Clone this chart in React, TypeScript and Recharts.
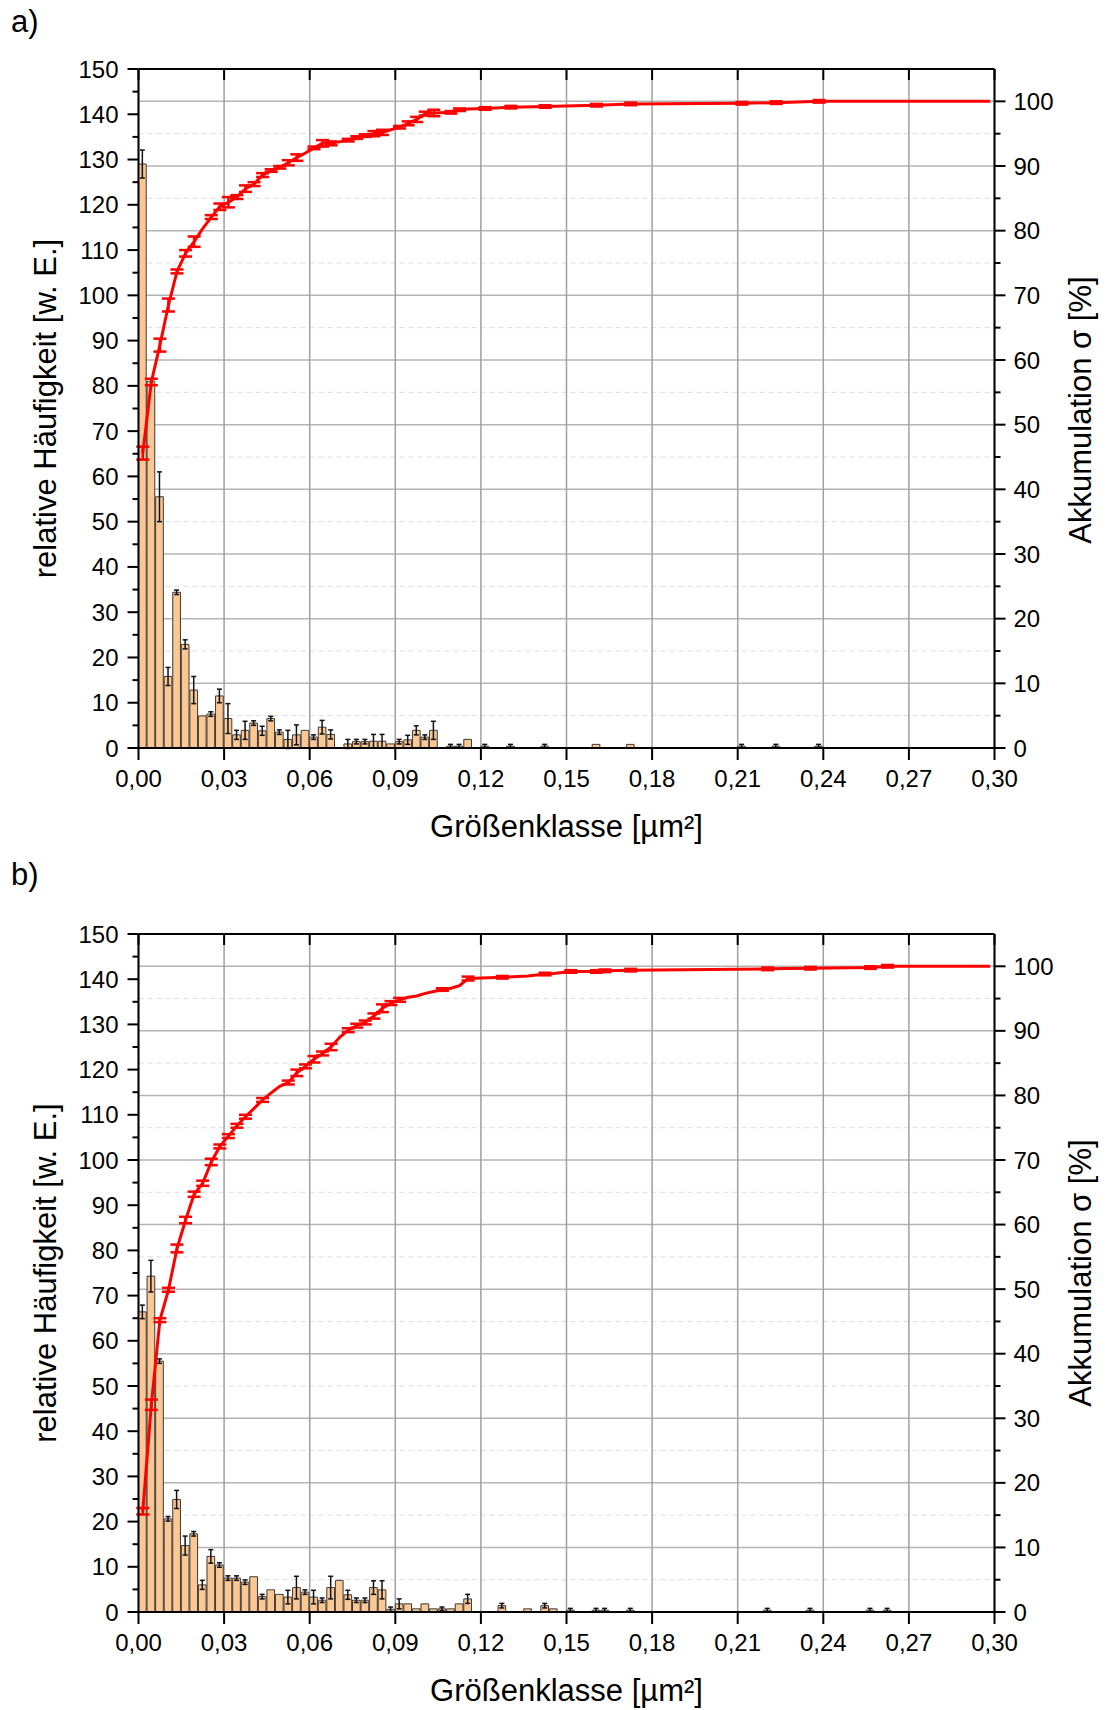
import React from 'react';
import { ComposedChart, Bar, Line, XAxis, YAxis, CartesianGrid, ErrorBar } from 'recharts';

const FONT = '"Liberation Sans", Arial, Helvetica, sans-serif';
const BIN_WIDTH = 0.003;

const X_TICKS = [0, 0.03, 0.06, 0.09, 0.12, 0.15, 0.18, 0.21, 0.24, 0.27, 0.3];
const LEFT_TICKS = [0, 5, 10, 15, 20, 25, 30, 35, 40, 45, 50, 55, 60, 65, 70, 75, 80, 85, 90, 95, 100, 105, 110, 115, 120, 125, 130, 135, 140, 145, 150];
const RIGHT_TICKS = [0, 5, 10, 15, 20, 25, 30, 35, 40, 45, 50, 55, 60, 65, 70, 75, 80, 85, 90, 95, 100];

// ---------- Panel a ----------
const freqBinsA = [0, 1, 2, 3, 4, 5, 6, 7, 8, 9, 10, 11, 12, 13, 14, 15, 16, 17, 18, 19, 20, 21, 22, 24, 25, 26, 27, 28, 29, 30, 31, 32, 33, 34, 36, 37, 38, 40, 43, 47, 53, 57, 70, 74, 79];
const freqA = [129, 81, 55.5, 15.8, 34.4, 22.9, 12.8, 7.1, 7.5, 11.5, 6.5, 2.9, 3.9, 5.5, 3.8, 6.5, 3.5, 1.9, 2.9, 3.9, 2.4, 4.6, 3.0, 0.9, 1.4, 1.4, 1.5, 1.5, 0.9, 1.4, 1.8, 3.9, 2.4, 3.9, 0.4, 0.4, 1.9, 0.4, 0.4, 0.4, 0.8, 0.8, 0.4, 0.4, 0.4];
const freqErrA = [3.1, 0, 5.5, 2, 0.5, 1, 3, 0, 0.5, 1.5, 3.3, 1, 2, 0.5, 1, 0.5, 0.5, 2, 2.2, 0, 0.5, 1.5, 1, 1, 0.5, 0.5, 1.5, 1.5, 0, 0.5, 1, 1, 0.5, 2, 0.4, 0.4, 0, 0.4, 0.4, 0.4, 0, 0, 0.4, 0.4, 0.4];

const cumBinsA = [0, 1, 2, 3, 4, 5, 6, 7, 8, 9, 10, 11, 12, 13, 14, 15, 16, 17, 18, 19, 20, 21, 22, 24, 25, 26, 27, 28, 29, 30, 31, 32, 33, 34, 36, 37, 38, 40, 43, 47, 53, 57, 70, 74, 79, 99];
const cumA = [45.6, 56.6, 62.3, 68.5, 73.7, 76.5, 78.3, 80.3, 82.1, 83.7, 84.4, 85.2, 86.5, 87.2, 88.6, 89.3, 89.8, 90.5, 91.3, 92.0, 92.8, 93.5, 93.5, 94.0, 94.4, 94.7, 95.0, 95.2, 95.6, 96.0, 96.6, 97.2, 98.1, 98.2, 98.3, 98.7, 98.8, 98.9, 99.1, 99.2, 99.4, 99.6, 99.7, 99.8, 100, 100];
const cumErrA = [1, 0.5, 1, 1, 0.3, 0.5, 0.8, 0, 0.3, 0.5, 0.8, 0.3, 0.5, 0.3, 0.3, 0.2, 0.2, 0.4, 0.5, 0, 0.2, 0.5, 0.3, 0.2, 0.2, 0.2, 0.4, 0.4, 0, 0.2, 0.3, 0.4, 0.3, 0.5, 0.2, 0.2, 0, 0.2, 0.2, 0.2, 0.2, 0.2, 0.2, 0.2, 0.2, 0];

// ---------- Panel b ----------
const freqBinsB = [0, 1, 2, 3, 4, 5, 6, 7, 8, 9, 10, 11, 12, 13, 14, 15, 16, 17, 18, 19, 20, 21, 22, 23, 24, 25, 26, 27, 28, 29, 30, 31, 32, 33, 34, 35, 36, 37, 38, 42, 45, 47, 48, 50, 53, 54, 57, 73, 78, 85, 87];
const freqB = [66.4, 74.3, 55.5, 20.6, 24.9, 14.7, 17.3, 6.0, 12.3, 10.4, 7.5, 7.5, 6.6, 7.8, 3.4, 4.9, 3.9, 3.3, 5.4, 4.4, 3.3, 2.6, 5.4, 7.0, 3.8, 2.6, 2.6, 5.4, 4.9, 0.6, 1.8, 1.8, 0.7, 1.8, 0.7, 0.7, 0.7, 1.8, 2.9, 1.4, 0.7, 1.4, 0.7, 0.4, 0.4, 0.4, 0.4, 0.4, 0.4, 0.4, 0.4];
const freqErrB = [1.5, 3.5, 0.5, 0.5, 2, 2.1, 0.5, 1, 1.5, 0.5, 0.5, 0.5, 0.5, 0, 0.5, 0, 0, 1.5, 2.5, 0.5, 1.5, 0.5, 2.5, 0, 1, 0.5, 0.5, 1.5, 2, 0.5, 1.1, 0, 0, 0, 0, 0.4, 0, 0, 1, 0.5, 0, 0.5, 0, 0.4, 0.4, 0.4, 0.4, 0.4, 0.4, 0.4, 0.4];

const cumBinsB = [0, 1, 2, 3, 4, 5, 6, 7, 8, 9, 10, 11, 12, 13, 14, 15, 16, 17, 18, 19, 20, 21, 22, 23, 24, 25, 26, 27, 28, 29, 30, 31, 32, 33, 34, 35, 36, 37, 38, 42, 45, 47, 48, 50, 53, 54, 57, 73, 78, 85, 87, 99];
const cumB = [15.6, 32.1, 45.2, 49.9, 56.3, 60.7, 64.7, 66.4, 69.7, 72.1, 73.7, 75.3, 76.7, 78.0, 79.3, 80.4, 81.4, 82.0, 83.5, 84.5, 85.6, 86.5, 87.5, 89.0, 90.1, 90.8, 91.3, 92.3, 93.5, 94.3, 94.8, 95.2, 95.4, 95.8, 96.1, 96.4, 96.6, 97.0, 98.1, 98.3, 98.5, 98.8, 98.9, 99.2, 99.2, 99.3, 99.4, 99.6, 99.7, 99.8, 100, 100];
const cumErrB = [0.5, 0.8, 0.3, 0.3, 0.6, 0.5, 0.4, 0.4, 0.5, 0.3, 0.3, 0.3, 0.3, 0, 0.3, 0, 0, 0.3, 0.5, 0.3, 0.5, 0.3, 0.5, 0, 0.3, 0.3, 0.3, 0.4, 0.6, 0.3, 0.3, 0, 0, 0, 0, 0.2, 0, 0, 0.3, 0.2, 0, 0.2, 0, 0.2, 0.2, 0.2, 0.2, 0.2, 0.2, 0.2, 0.2, 0];

type Row = { x: number; freq?: number; freqErr?: number | null; cum?: number; cumErr?: number | null };

function makeRows(fb: number[], f: number[], fe: number[], cb: number[], c: number[], ce: number[]): Row[] {
  const map = new Map<number, Row>();
  const get = (b: number) => {
    if (!map.has(b)) map.set(b, { x: (b + 0.5) * BIN_WIDTH });
    return map.get(b) as Row;
  };
  fb.forEach((b, i) => { const r = get(b); r.freq = f[i]; r.freqErr = fe[i] ? fe[i] : null; });
  cb.forEach((b, i) => { const r = get(b); r.cum = c[i]; r.cumErr = ce[i] ? ce[i] : null; });
  return Array.from(map.entries()).sort((a, b) => a[0] - b[0]).map((e) => e[1]);
}

const rowsA = makeRows(freqBinsA, freqA, freqErrA, cumBinsA, cumA, cumErrA);
const rowsB = makeRows(freqBinsB, freqB, freqErrB, cumBinsB, cumB, cumErrB);

const W = 1109;
const CH = 860;
const LEFT_W = 100;
const RIGHT_W = 80;
const MARGIN_L = 38.5;
const MARGIN_R = 34.5;
const PLOT_W = W - MARGIN_L - LEFT_W - MARGIN_R - RIGHT_W;
const BAR_SIZE = PLOT_W / 100;

const LeftTick = (p: any) => {
  const { x, y, payload } = p;
  const v = payload.value;
  const major = v % 10 === 0;
  return (
    <g>
      <line x1={x} x2={x - (major ? 11 : 6)} y1={y} y2={y} stroke="#000" strokeWidth={2} />
      {major && (
        <text x={x - 20} y={y + 8.5} textAnchor="end" fontSize={24} fontFamily={FONT} fill="#000">{v}</text>
      )}
    </g>
  );
};

const RightTick = (p: any) => {
  const { x, y, payload } = p;
  const v = payload.value;
  const major = v % 10 === 0;
  return (
    <g>
      <line x1={x} x2={x + (major ? 11 : 6)} y1={y} y2={y} stroke="#000" strokeWidth={2} />
      {major && (
        <text x={x + 19} y={y + 8.5} textAnchor="start" fontSize={24} fontFamily={FONT} fill="#000">{v}</text>
      )}
    </g>
  );
};

const BottomTick = (p: any) => {
  const { x, y, payload } = p;
  const v = Number(payload.value);
  return (
    <g>
      <line x1={x} x2={x} y1={y} y2={y + 12} stroke="#000" strokeWidth={2} />
      <text x={x} y={y + 39} textAnchor="middle" fontSize={24} fontFamily={FONT} fill="#000">{v.toFixed(2).replace('.', ',')}</text>
    </g>
  );
};

const TopTick = (p: any) => {
  const { x, y } = p;
  return <line x1={x} x2={x} y1={y} y2={y + 11} stroke="#000" strokeWidth={2} />;
};

const hLine = (p: any) => {
  const dashed = p.index % 2 === 1;
  return (
    <line
      key={p.key}
      x1={p.x1}
      x2={p.x2}
      y1={p.y1}
      y2={p.y2}
      stroke={dashed ? '#dcdcdc' : '#b4b4b4'}
      strokeWidth={dashed ? 1 : 1.5}
      strokeDasharray={dashed ? '5 4' : undefined}
    />
  );
};

const vLine = (p: any) => (
  <line key={p.key} x1={p.x1} x2={p.x2} y1={p.y1} y2={p.y2} stroke="#a0a0a0" strokeWidth={1.5} />
);

function Panel({ rows, bottomMargin }: { rows: Row[]; bottomMargin: number }) {
  return (
    <ComposedChart
      width={W}
      height={CH}
      data={rows}
      margin={{ top: 68, right: MARGIN_R, bottom: bottomMargin, left: MARGIN_L }}
      barGap={0}
      barCategoryGap={0}
    >
      <CartesianGrid xAxisId="bottom" yAxisId="right" horizontal={hLine} vertical={vLine} />
      <XAxis
        xAxisId="bottom"
        dataKey="x"
        type="number"
        domain={[0, 0.3]}
        ticks={X_TICKS}
        interval={0}
        allowDataOverflow
        height={60}
        tickSize={0}
        tickMargin={0}
        tickLine={false}
        tick={(p: any) => <BottomTick {...p} />}
        axisLine={{ stroke: '#000', strokeWidth: 2 }}
      />
      <XAxis
        xAxisId="top"
        orientation="top"
        dataKey="x"
        type="number"
        domain={[0, 0.3]}
        ticks={X_TICKS}
        interval={0}
        allowDataOverflow
        height={1}
        tickSize={0}
        tickMargin={0}
        tickLine={false}
        tick={(p: any) => <TopTick {...p} />}
        axisLine={{ stroke: '#000', strokeWidth: 2 }}
      />
      <YAxis
        yAxisId="left"
        orientation="left"
        type="number"
        domain={[0, 150]}
        ticks={LEFT_TICKS}
        interval={0}
        allowDataOverflow
        width={LEFT_W}
        tickSize={0}
        tickMargin={0}
        tickLine={false}
        tick={(p: any) => <LeftTick {...p} />}
        axisLine={{ stroke: '#000', strokeWidth: 2 }}
      />
      <YAxis
        yAxisId="right"
        orientation="right"
        type="number"
        domain={[0, 105]}
        ticks={RIGHT_TICKS}
        interval={0}
        allowDataOverflow
        width={RIGHT_W}
        tickSize={0}
        tickMargin={0}
        tickLine={false}
        tick={(p: any) => <RightTick {...p} />}
        axisLine={{ stroke: '#000', strokeWidth: 2 }}
      />
      <Bar
        xAxisId="bottom"
        yAxisId="left"
        dataKey="freq"
        barSize={BAR_SIZE}
        fill="#FBC793"
        stroke="#3a3a3a"
        strokeWidth={1}
        isAnimationActive={false}
      >
        <ErrorBar dataKey="freqErr" width={2.5} stroke="#111" strokeWidth={1.5} direction="y" />
      </Bar>
      <Line
        xAxisId="bottom"
        yAxisId="right"
        dataKey="cum"
        type="linear"
        stroke="#ff0000"
        strokeWidth={3}
        dot={false}
        connectNulls
        isAnimationActive={false}
      >
        <ErrorBar dataKey="cumErr" width={6.5} stroke="#ff0000" strokeWidth={2.5} direction="y" />
      </Line>
    </ComposedChart>
  );
}

function Titles() {
  const t = { fontFamily: FONT, fill: '#000' } as const;
  return (
    <svg width={W} height={1710} style={{ position: 'absolute', left: 0, top: 0, pointerEvents: 'none' }}>
      <text x={11} y={32} fontSize={31} {...t}>a)</text>
      <text x={566.5} y={837} fontSize={31} textAnchor="middle" {...t}>Größenklasse [µm²]</text>
      <text transform="translate(56,408.5) rotate(-90)" fontSize={31} textAnchor="middle" {...t}>relative Häufigkeit [w. E.]</text>
      <text transform="translate(1091,410) rotate(-90)" fontSize={31} textAnchor="middle" {...t}>Akkumulation σ [%]</text>

      <text x={11} y={885} fontSize={31} {...t}>b)</text>
      <text x={566.5} y={1701} fontSize={31} textAnchor="middle" {...t}>Größenklasse [µm²]</text>
      <text transform="translate(56,1273) rotate(-90)" fontSize={31} textAnchor="middle" {...t}>relative Häufigkeit [w. E.]</text>
      <text transform="translate(1091,1273) rotate(-90)" fontSize={31} textAnchor="middle" {...t}>Akkumulation σ [%]</text>
    </svg>
  );
}

export default function App() {
  return (
    <div style={{ position: 'absolute', left: 0, top: 0, width: W, height: 1710, background: '#fff', overflow: 'hidden' }}>
      <div style={{ position: 'absolute', left: 0, top: 0 }}>
        <Panel rows={rowsA} bottomMargin={52} />
      </div>
      <div style={{ position: 'absolute', left: 0, top: 865 }}>
        <Panel rows={rowsB} bottomMargin={53} />
      </div>
      <Titles />
    </div>
  );
}
